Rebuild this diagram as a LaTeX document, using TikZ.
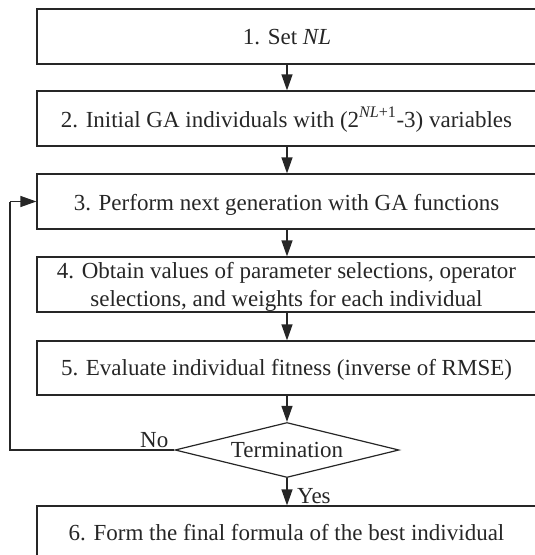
\documentclass[tikz,border=0pt]{standalone}
\usepackage{fontspec}
\setmainfont{Liberation Serif}
\usetikzlibrary{arrows.meta,shapes.geometric}
\definecolor{ln}{HTML}{262626}
\begin{document}
\begin{tikzpicture}[x=1pt,y=-1pt,
  box/.style={draw=ln,line width=1.2pt,rectangle,inner sep=0pt,minimum width=502pt},
  txt/.style={font=\fontsize{23}{28}\selectfont,inner sep=0pt,align=center,text=ln},
  dia/.style={draw=ln,line width=1.2pt,diamond,inner sep=0pt,minimum width=224pt,minimum height=55pt,aspect=4.07,font=\fontsize{23}{28}\selectfont,text=ln},
  arr/.style={draw=ln,line width=1.2pt,-{Triangle[length=16pt,width=11pt]}},
  lnk/.style={draw=ln,line width=1.2pt}]
\useasboundingbox (0,0) rectangle (535,555);
\clip (0,0) rectangle (535,555);
\node[box,minimum height=55pt] (b1) at (288,36.5) {};
\node[box,minimum height=55pt] (b2) at (288,118.5) {};
\node[box,minimum height=55pt] (b3) at (288,201.5) {};
\node[box,minimum height=55pt] (b4) at (288,284.5) {};
\node[box,minimum height=54pt] (b5) at (288,368) {};
\node[box,minimum height=60pt] (b6) at (288,536) {};
\node[txt,anchor=base] (t1) at (287,44) {1. Set \textit{NL}};
\node[txt,anchor=base] (t2) at (286.5,127) {2. Initial GA individuals with (2\textsuperscript{\textit{NL}+1}-3) variables};
\node[txt,anchor=base] (t3) at (286.5,210) {3. Perform next generation with GA functions};
\node[txt,anchor=center] (t4) at (286.5,287) {4. Obtain values of parameter selections, operator\\selections, and weights for each individual};
\node[txt,anchor=base] (t5) at (286.5,375) {5. Evaluate individual fitness (inverse of RMSE)};
\node[txt,anchor=base] (t6) at (286.5,540) {6. Form the final formula of the best individual};
\node[dia] (d) at (287,450) {Termination};
\coordinate (ax) at (287,0);
\coordinate (fb) at (10,0);
\draw[arr] (b1.south -| ax) -- (b2.north -| ax);
\draw[arr] (b2.south -| ax) -- (b3.north -| ax);
\draw[arr] (b3.south -| ax) -- (b4.north -| ax);
\draw[arr] (b4.south -| ax) -- (b5.north -| ax);
\draw[arr] (b5.south -| ax) -- (d.north);
\draw[arr] (d.south) -- (b6.north -| ax);
\draw[lnk] (d.west) -- (d.west -| fb) -- (fb |- b3.center) coordinate (fc);
\draw[arr] (fc) -- (b3.west |- fc);
\node[txt,anchor=base west] (no) at (140,447) {No};
\node[txt,anchor=base west] (yes) at (297,503) {Yes};
\end{tikzpicture}
\end{document}
